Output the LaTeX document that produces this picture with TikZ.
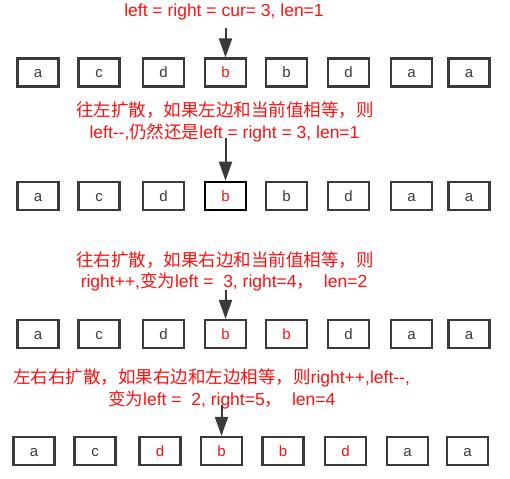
\documentclass[tikz,border=0pt]{standalone}
\usepackage{fontspec}
\setmainfont{Liberation Sans}
\newfontfamily\cjkfont{Noto Sans CJK SC}
\newcommand{\zh}[1]{{\cjkfont #1}}
\newcommand{\mm}{-\kern0pt-}
\usetikzlibrary{arrows.meta}
\definecolor{boxgray}{HTML}{3A3A3A}
\definecolor{labred}{HTML}{FF1010}
\tikzset{
  x=1pt, y=-1pt,
  cell/.style={draw=boxgray, line width=2.2pt, minimum width=41pt, minimum height=28pt,
    inner sep=0pt, text height=10.7pt, text depth=0pt, font=\fontsize{15}{17}\selectfont, text=boxgray},
  norm/.style={},
  hot/.style={text=labred},
  hotfocus/.style={text=labred, draw=black, line width=2.6pt},
  note/.style={text=labred, font=\fontsize{17.5}{21}\selectfont, inner sep=0pt, anchor=center},
  pointer/.style={draw=boxgray, line width=2pt, -{Triangle[length=19pt,width=13pt]}}
}
\begin{document}
\begin{tikzpicture}
\useasboundingbox (0,0) rectangle (510,478);
% Row 1
\node[note] (t1) at (224,12) {left = right = cur= 3, len=1};
\foreach \i/\x/\c/\s in {1/38/a/norm,2/99/c/norm,3/163.5/d/norm,4/225.5/b/hot,5/286.5/b/norm,6/348.5/d/norm,7/411.5/a/norm,8/469/a/norm}
  \node[cell,\s] (r1c\i) at (\x,72.5) {\c};
\coordinate (s1) at (225.5,28);
\draw[pointer] (s1) -- (r1c4.north);
% Row 2
\node[note] (t2a) at (225,110) {\zh{往左扩散，如果左边和当前值相等，则}};
\node[note] (t2b) at (224.5,133) {left\mm,\zh{仍然还是}left = right = 3, len=1};
\foreach \i/\x/\c/\s in {1/38/a/norm,2/99/c/norm,3/163.5/d/norm,4/225.5/b/hotfocus,5/286.5/b/norm,6/348.5/d/norm,7/411.5/a/norm,8/469/a/norm}
  \node[cell,\s] (r2c\i) at (\x,196) {\c};
\coordinate (s2) at (225.5,138);
\draw[pointer] (s2) -- (r2c4.north);
% Row 3
\node[note] (t3a) at (225,260) {\zh{往右扩散，如果右边和当前值相等，则}};
\node[note] (t3b) at (224,282) {right++,\zh{变为}left =\ \ 3, right=4\zh{，}\ \ len=2};
\foreach \i/\x/\c/\s in {1/38/a/norm,2/99/c/norm,3/163.5/d/norm,4/225.5/b/hot,5/286.5/b/hot,6/348.5/d/norm,7/411.5/a/norm,8/469/a/norm}
  \node[cell,\s] (r3c\i) at (\x,334) {\c};
\coordinate (s3) at (225.5,290);
\draw[pointer] (s3) -- (r3c4.north);
% Row 4
\node[note,anchor=west] (t4a) at (13,378) {\zh{左右右扩散，如果右边和左边相等，则}right++,left\mm,};
\node[note,anchor=west] (t4b) at (108,400) {\zh{变为}left =\ \ 2, right=5\zh{，}\ \ len=4};
\foreach \i/\x/\c/\s in {1/34/a/norm,2/95/c/norm,3/160/d/hot,4/221.5/b/hot,5/283/b/hot,6/345.5/d/hot,7/407.5/a/norm,8/467.5/a/norm}
  \node[cell,\s] (r4c\i) at (\x,451) {\c};
\coordinate (s4) at (221.5,405);
\draw[pointer] (s4) -- (r4c4.north);
\end{tikzpicture}
\end{document}
